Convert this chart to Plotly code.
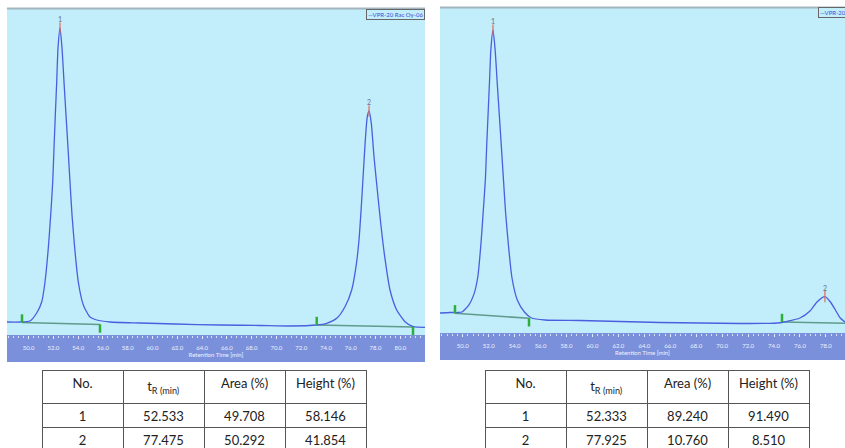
import plotly.graph_objects as go

W, H = 845, 448

# ---------------- data ----------------
# Left chromatogram (retention time [min], detector signal [a.u.])
time_left = [48.255, 49.305, 50.112, 50.652, 51.056, 51.322, 51.589, 51.782, 51.944, 52.049,
             52.154, 52.267, 52.372, 52.533, 52.694, 52.856, 53.017, 53.179, 53.340, 53.502,
             53.719, 54.010, 54.414, 54.954, 55.495, 56.569, 58.990, 61.815, 65.447, 68.675,
             71.096, 73.252, 74.059, 74.866, 75.535, 76.076, 76.423, 76.665, 76.851, 77.012,
             77.174, 77.335, 77.475, 77.658, 77.876, 78.142, 78.417, 78.740, 79.167, 79.708,
             80.378, 81.048, 81.992]
signal_left = [13, 13, 14, 22, 33, 53, 87, 120, 153, 187,
               220, 253, 287, 307, 287, 253, 220, 187, 153, 120,
               87, 53, 30, 18, 15, 13, 12, 11, 10, 9.5,
               9, 10, 11.7, 16.7, 28.3, 45, 68.3, 95, 128.3, 161.7,
               195, 218.3, 224, 211.7, 178.3, 145, 111.7, 78.3, 45, 25,
               13.3, 8.3, 7.7]

# Right chromatogram
time_right = [48.247, 49.018, 49.634, 49.943, 50.452, 50.853, 51.161, 51.408, 51.585, 51.747,
              51.847, 51.955, 52.063, 52.171, 52.333, 52.495, 52.657, 52.819, 52.981, 53.143,
              53.304, 53.520, 53.798, 54.214, 54.754, 55.294, 56.342, 59.041, 62.125, 65.209,
              68.293, 71.377, 73.690, 74.615, 75.232, 76.003, 76.774, 77.313, 77.925, 78.350,
              78.730, 79.110, 79.472]
signal_right = [20, 20.5, 20.5, 21, 27.6, 38.4, 56, 90, 122.4, 154.1,
                187, 219, 251, 284, 303, 283.6, 250.4, 218, 185.7, 152.6,
                120.5, 88.2, 55, 32.7, 21, 15, 13, 12.5, 11.5, 10.5,
                10, 9.5, 9.7, 10.5, 12.3, 15, 22, 31, 36.3, 31,
                23, 15, 11]

# Integration baselines (start/end time, start/end signal) per peak
base_t_left = [[49.466, 55.761], [73.252, 81.024]]
base_s_left = [[12.5, 10.5], [10.0, 8.0]]
base_t_right = [[49.403, 55.109], [74.615, 80.2]]
base_s_right = [[19.7, 14.7], [11.0, 9.5]]

# Peak table values
peak_no = ["1", "2"]
tr_left = ["52.533", "77.475"]
area_left = ["49.708", "50.292"]
height_left = ["58.146", "41.854"]
tr_right = ["52.333", "77.925"]
area_right = ["89.240", "10.760"]
height_right = ["91.490", "8.510"]
peak_time_left = [52.533, 77.475]
peak_time_right = [52.333, 77.925]

header_labels = ["No.", "t<sub>R\u00a0(min)</sub>", "Area\u00a0(%)", "Height\u00a0(%)"]
trace_name = "VPR-20 Rac Oy-06"
x_title = "Retention Time [min]"

# ---------------- styling ----------------
PLOT_BG = "#c2edfa"
BAND = "#7a90da"
TRACE = "#4a5fe0"
BASE = "#5f9c8c"
GREEN = "#2faf3a"
FONT = "Lato"


def px_x(p):
    return p / W


def px_y(p):
    return 1 - p / H


fig = go.Figure()

panels = [
    dict(t=time_left, s=signal_left, bt=base_t_left, bs=base_s_left, pt=peak_time_left,
         xa="x", ya="y"),
    dict(t=time_right, s=signal_right, bt=base_t_right, bs=base_s_right, pt=peak_time_right,
         xa="x2", ya="y2"),
]

annotations = []
for p in panels:
    # integration baselines
    for bt, bs in zip(p["bt"], p["bs"]):
        fig.add_trace(go.Scatter(x=bt, y=bs, mode="lines", line=dict(color=BASE, width=1.6),
                                 xaxis=p["xa"], yaxis=p["ya"], showlegend=False, hoverinfo="skip"))
    # chromatogram trace
    fig.add_trace(go.Scatter(x=p["t"], y=p["s"], mode="lines",
                             line=dict(color=TRACE, width=1.3, shape="spline", smoothing=0.6),
                             name=trace_name, xaxis=p["xa"], yaxis=p["ya"], showlegend=False))
    # baseline start / end markers
    st = [b[0] for b in p["bt"]]
    ss = [b[0] + 4 for b in p["bs"]]
    et = [b[1] for b in p["bt"]]
    es = [b[1] - 4 for b in p["bs"]]
    fig.add_trace(go.Scatter(x=st + et, y=ss + es, mode="markers",
                             marker=dict(symbol="line-ns", size=6, line=dict(color=GREEN, width=2.5)),
                             xaxis=p["xa"], yaxis=p["ya"], showlegend=False, hoverinfo="skip"))
    # apex marks + peak numbers
    apex_s = []
    for pt in p["pt"]:
        i = min(range(len(p["t"])), key=lambda k: abs(p["t"][k] - pt))
        apex_s.append(p["s"][i])
    fig.add_trace(go.Scatter(x=p["pt"], y=apex_s, mode="markers",
                             marker=dict(symbol="line-ns", size=8, line=dict(color="#e06a5a", width=1.2)),
                             xaxis=p["xa"], yaxis=p["ya"], showlegend=False, hoverinfo="skip"))
    for k, (pt, sv) in enumerate(zip(p["pt"], apex_s)):
        annotations.append(dict(x=pt, y=sv, xref=p["xa"], yref=p["ya"], text=peak_no[k],
                                showarrow=False, yshift=9, font=dict(size=7, color="#707080", family=FONT)))

# tables
for dom, tr, ar, hg in [((42, 366), tr_left, area_left, height_left),
                        ((485, 810), tr_right, area_right, height_right)]:
    fig.add_trace(go.Table(
        domain=dict(x=[px_x(dom[0]), px_x(dom[1])], y=[0, px_y(370)]),
        columnwidth=[1, 1, 1, 1],
        header=dict(values=header_labels, height=26, fill_color="white",
                    line=dict(color="#555555", width=1), align="center",
                    font=dict(family=FONT, size=13, color="#222222")),
        cells=dict(values=[peak_no, tr, ar, hg], height=24, fill_color="white",
                   line=dict(color="#555555", width=1), align="center",
                   font=dict(family=FONT, size=13, color="#222222")),
    ))

shapes = []
# x-axis bands and top border lines
for x0, x1, ybot, ytop, ptop in [(7, 425, 362, 335, 9), (440, 845, 360, 333, 8)]:
    shapes.append(dict(type="rect", xref="paper", yref="paper", x0=px_x(x0), x1=px_x(x1),
                       y0=px_y(ybot), y1=px_y(ytop), fillcolor=BAND, line=dict(width=0), layer="below"))
    shapes.append(dict(type="line", xref="paper", yref="paper", x0=px_x(x0), x1=px_x(x1),
                       y0=px_y(ptop - 0.5), y1=px_y(ptop - 0.5), line=dict(color="#a2b4bd", width=2)))

# legend-like labels
annotations.append(dict(xref="paper", yref="paper", x=px_x(425), y=px_y(8.5), xanchor="right", yanchor="top",
                        text="—" + trace_name, showarrow=False, bgcolor=PLOT_BG, bordercolor="#666666",
                        borderwidth=1, borderpad=1, font=dict(size=6, color="#3a4fd8", family=FONT)))
annotations.append(dict(xref="paper", yref="paper", x=px_x(818), y=px_y(7.5), xanchor="left", yanchor="top",
                        text="—" + trace_name, showarrow=False, bgcolor=PLOT_BG, bordercolor="#666666",
                        borderwidth=1, borderpad=1, font=dict(size=6, color="#3a4fd8", family=FONT)))

xaxis_common = dict(showgrid=False, zeroline=False, showline=False, ticks="outside", ticklen=3,
                    tickcolor="#e4eafc", tickwidth=1, dtick=2, tick0=50, tickformat=".1f",
                    tickfont=dict(size=6, color="#eef2ff", family=FONT), ticklabelstandoff=4,
                    minor=dict(ticks="outside", ticklen=2, dtick=0.4, tickcolor="#d8e0f8"),
                    title=dict(text=x_title, font=dict(size=6, color="#eef2ff", family=FONT), standoff=2))

fig.update_layout(
    width=W, height=H,
    margin=dict(l=0, r=0, t=0, b=0),
    paper_bgcolor="white", plot_bgcolor=PLOT_BG,
    showlegend=False,
    xaxis=dict(domain=[px_x(7), px_x(425)], range=[48.255, 81.992], anchor="y", **xaxis_common),
    yaxis=dict(domain=[px_y(335), px_y(9)], range=[0, 326], visible=False, anchor="x"),
    xaxis2=dict(domain=[px_x(440), 1], range=[48.247, 79.472], anchor="y2", **xaxis_common),
    yaxis2=dict(domain=[px_y(333), px_y(8)], range=[0, 325], visible=False, anchor="x2"),
    shapes=shapes, annotations=annotations,
    font=dict(family=FONT),
)

fig.write_html("out.html", config={"displayModeBar": False},
               post_script="document.body.style.margin='0';document.body.style.overflow='hidden';")
